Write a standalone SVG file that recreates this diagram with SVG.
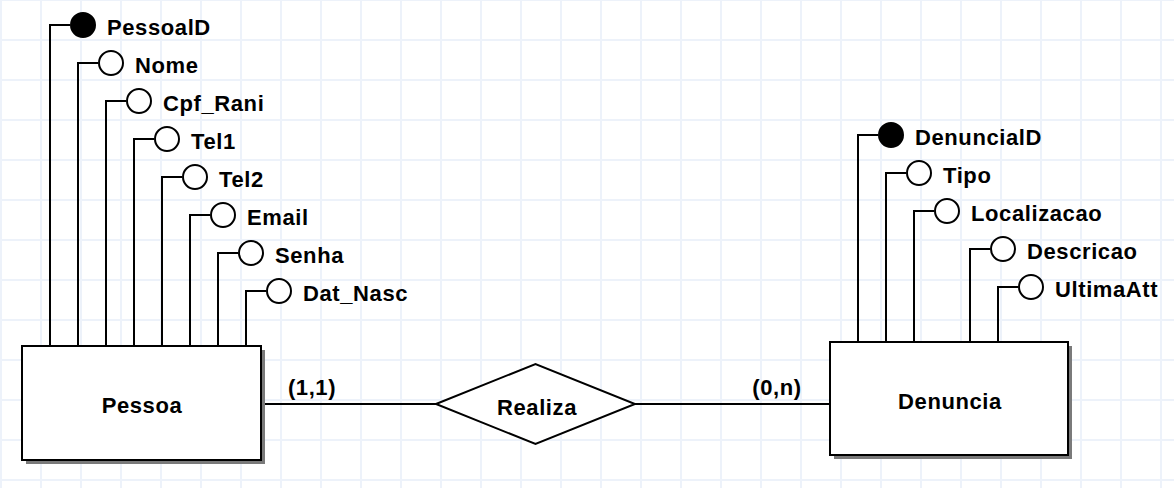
<svg xmlns="http://www.w3.org/2000/svg" width="1174" height="488" viewBox="0 0 1174 488">
<style>
.ln{fill:none;stroke:#000;stroke-width:2}
.att{fill:#fff;stroke:#000;stroke-width:2}
.key{fill:#000;stroke:#000;stroke-width:2}
.ent{fill:#fff;stroke:#000;stroke-width:2}
.sh{fill:#7a7a7a}
text{font-family:"Liberation Sans",Arial,sans-serif;font-weight:bold;font-size:22px;letter-spacing:0.6px;fill:#000}
.mid{text-anchor:middle}
</style>
<defs>
<pattern id="grid" width="40" height="40" patternUnits="userSpaceOnUse" x="-19" y="-20">
<path d="M20 0V40M0 20H40" stroke="#edf2fa" stroke-width="2" fill="none"/>
</pattern>
</defs>
<rect width="1174" height="488" fill="#fff"/>
<rect width="1174" height="488" fill="url(#grid)"/>

<g id="connectors">
<!-- Pessoa attributes -->
<path class="ln" d="M50 346V25H70"/>
<path class="ln" d="M78 346V63H98"/>
<path class="ln" d="M106 346V101H126"/>
<path class="ln" d="M134 346V139H154"/>
<path class="ln" d="M162 346V177H182"/>
<path class="ln" d="M190 346V215H210"/>
<path class="ln" d="M218 346V253H238"/>
<path class="ln" d="M246 346V291H266"/>
<!-- Denuncia attributes -->
<path class="ln" d="M858 342V135H878"/>
<path class="ln" d="M886 342V173H906"/>
<path class="ln" d="M914 342V211H934"/>
<path class="ln" d="M970 342V249H990"/>
<path class="ln" d="M998 342V287H1018"/>
<!-- relationship -->
<path class="ln" d="M261 404H436"/>
<path class="ln" d="M635 404H830"/>
<text x="312" y="395" class="mid">(1,1)</text>
<text x="777" y="395" class="mid">(0,n)</text>
</g>

<g id="pessoa">
<rect class="sh" x="26" y="350" width="239" height="114"/>
<rect class="ent" x="22" y="346" width="239" height="114"/>
<text x="142" y="413" class="mid">Pessoa</text>
</g>

<g id="denuncia">
<rect class="sh" x="834" y="346" width="238" height="113"/>
<rect class="ent" x="830" y="342" width="238" height="113"/>
<text x="950" y="409" class="mid">Denuncia</text>
</g>

<g id="realiza">
<polygon class="ent" points="436,404 535.5,364 635,404 535.5,444"/>
<text x="537" y="415" class="mid">Realiza</text>
</g>

<g id="attr-pessoaid"><circle class="key" cx="83" cy="25" r="12"/><text x="107" y="35">PessoalD</text></g>
<g id="attr-nome"><circle class="att" cx="111" cy="63" r="12"/><text x="135" y="73">Nome</text></g>
<g id="attr-cpf"><circle class="att" cx="139" cy="101" r="12"/><text x="163" y="111">Cpf_Rani</text></g>
<g id="attr-tel1"><circle class="att" cx="167" cy="139" r="12"/><text x="191" y="149">Tel1</text></g>
<g id="attr-tel2"><circle class="att" cx="195" cy="177" r="12"/><text x="219" y="187">Tel2</text></g>
<g id="attr-email"><circle class="att" cx="223" cy="215" r="12"/><text x="247" y="225">Email</text></g>
<g id="attr-senha"><circle class="att" cx="251" cy="253" r="12"/><text x="275" y="263">Senha</text></g>
<g id="attr-datnasc"><circle class="att" cx="279" cy="291" r="12"/><text x="303" y="301">Dat_Nasc</text></g>

<g id="attr-denunciaid"><circle class="key" cx="891" cy="135" r="12"/><text x="915" y="145">DenuncialD</text></g>
<g id="attr-tipo"><circle class="att" cx="919" cy="173" r="12"/><text x="943" y="183">Tipo</text></g>
<g id="attr-localizacao"><circle class="att" cx="947" cy="211" r="12"/><text x="971" y="221">Localizacao</text></g>
<g id="attr-descricao"><circle class="att" cx="1003" cy="249" r="12"/><text x="1027" y="259">Descricao</text></g>
<g id="attr-ultimaatt"><circle class="att" cx="1031" cy="287" r="12"/><text x="1055" y="297">UltimaAtt</text></g>
</svg>
